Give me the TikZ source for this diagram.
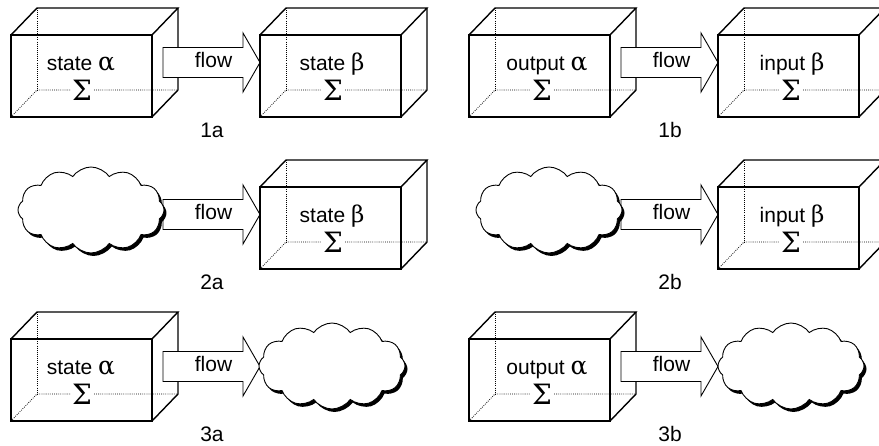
\documentclass[tikz,border=0pt]{standalone}
\usepackage{fontspec}
\setmainfont{Liberation Sans}
\newfontfamily\grk{DejaVu Serif}
\usetikzlibrary{shapes.symbols,shadows}
\newcommand\ga{{\grk\fontsize{25}{26}\selectfont α}}
\newcommand\gb{{\grk\fontsize{23}{24}\selectfont β}}
\tikzset{
  solidedge/.style={line width=1.4pt, line join=miter},
  hiddenedge/.style={line width=0.8pt, dash pattern=on 0.8pt off 1.3pt},
  blockarrow/.style={draw, line width=0.9pt, fill=white, line join=miter},
  txt/.style={font=\fontsize{21}{24}\selectfont, inner sep=0pt, anchor=base},
  sig/.style={font=\grk\fontsize{28}{30}\selectfont, fill=white, inner sep=1.5pt, anchor=base},
  cloudnode/.style={cloud, cloud puffs=12, cloud puff arc=110, cloud ignores aspect,
    draw, line width=0.9pt, fill=white, minimum width=146pt, minimum height=86pt, inner sep=0pt,
    drop shadow={shadow xshift=2.5pt, shadow yshift=-3pt, fill=black, opacity=1}},
}
\newcommand\cubebox[2]{%
\begin{scope}[shift={#2}]
  \coordinate (#1-ftl) at (0,0);
  \coordinate (#1-ftr) at (141,0);
  \coordinate (#1-fbr) at (141,82);
  \coordinate (#1-fbl) at (0,82);
  \coordinate (#1-btl) at (26,-27);
  \coordinate (#1-btr) at (167,-27);
  \coordinate (#1-bbr) at (167,55);
  \coordinate (#1-bbl) at (26,55);
  \fill[white] (#1-ftl)--(#1-btl)--(#1-btr)--(#1-bbr)--(#1-fbr)--(#1-fbl)--cycle;
  \draw[hiddenedge] (#1-fbl)--(#1-bbl)--(#1-bbr);
  \draw[hiddenedge] (#1-btl)--(#1-bbl);
  \draw[solidedge] (#1-ftl) rectangle (#1-fbr);
  \draw[solidedge] (#1-ftl)--(#1-btl)--(#1-btr)--(#1-ftr);
  \draw[solidedge] (#1-btr)--(#1-bbr)--(#1-fbr);
\end{scope}}
\newcommand\flowarrow[2]{%
\begin{scope}[shift={#2}]
  \coordinate (#1-tip) at (0,0);
  \draw[blockarrow] (#1-tip) -- (-17,-29.5) -- (-17,-15) -- (-97,-15) -- (-97,15) -- (-17,15) -- (-17,29.5) -- cycle;
  \node[txt] (#1-lbl) at (-46.5,5) {flow};
\end{scope}}
\begin{document}
\begin{tikzpicture}[x=1pt,y=-1pt]
\clip (0,0) rectangle (879,446);
\fill[white] (0,0) rectangle (879,446);
% ---------- 1a ----------
\cubebox{a1}{(11,35)}
\node[txt] (a1t) at (81,71) {state \ga};
\node[sig] (a1s) at (82,101) {Σ};
\flowarrow{f1a}{(260,62.5)}
\cubebox{b1}{(260,35)}
\node[txt] (b1t) at (332,71) {state \gb};
\node[sig] (b1s) at (333,101) {Σ};
\node[txt] (l1a) at (212,138) {1a};
% ---------- 1b ----------
\cubebox{c1}{(469,35)}
\node[txt] (c1t) at (547,71) {output \ga};
\node[sig] (c1s) at (542,101) {Σ};
\flowarrow{f1b}{(718,62.5)}
\cubebox{d1}{(718,35)}
\node[txt] (d1t) at (792,71) {input \gb};
\node[sig] (d1s) at (791,101) {Σ};
\node[txt] (l1b) at (670,138) {1b};
% ---------- 2a ----------
\flowarrow{f2a}{(260,214.5)}
\node[cloudnode] (cl2a) at (91,210) {};
\cubebox{b2}{(260,187)}
\node[txt] (b2t) at (332,223) {state \gb};
\node[sig] (b2s) at (333,253) {Σ};
\node[txt] (l2a) at (212,290) {2a};
% ---------- 2b ----------
\flowarrow{f2b}{(718,214.5)}
\node[cloudnode] (cl2b) at (549,210) {};
\cubebox{d2}{(718,187)}
\node[txt] (d2t) at (792,223) {input \gb};
\node[sig] (d2s) at (791,253) {Σ};
\node[txt] (l2b) at (670,290) {2b};
% ---------- 3a ----------
\cubebox{a3}{(11,339)}
\node[txt] (a3t) at (81,375) {state \ga};
\node[sig] (a3s) at (82,405) {Σ};
\flowarrow{f3a}{(260,366.5)}
\node[cloudnode] (cl3a) at (332,366) {};
\node[txt] (l3a) at (212,442) {3a};
% ---------- 3b ----------
\cubebox{c3}{(469,339)}
\node[txt] (c3t) at (547,375) {output \ga};
\node[sig] (c3s) at (542,405) {Σ};
\flowarrow{f3b}{(718,366.5)}
\node[cloudnode] (cl3b) at (791,366) {};
\node[txt] (l3b) at (670,442) {3b};
\end{tikzpicture}
\end{document}
